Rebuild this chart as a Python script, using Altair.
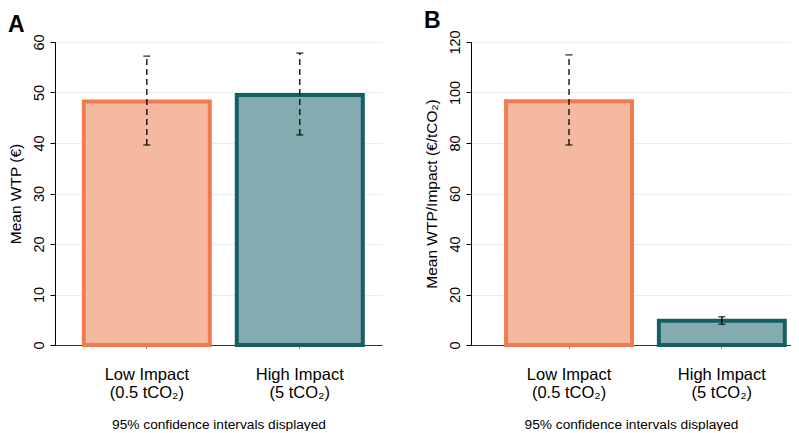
import altair as alt
import pandas as pd

categories = ["Low Impact\n(0.5 tCO₂)", "High Impact\n(5 tCO₂)"]
groups = ["low", "high"]

wtp_mean = [48.2, 49.5]
wtp_lo = [39.6, 41.6]
wtp_hi = [57.2, 57.8]

ratio_mean = [96.5, 9.6]
ratio_lo = [79.2, 8.2]
ratio_hi = [114.9, 11.2]
ratio_style = ["dashed", "solid"]
wtp_style = ["dashed", "dashed"]

fill_colors = ["#F5B9A1", "#84ABAF"]
stroke_colors = ["#EF7C4E", "#155E63"]

FONT = "Liberation Sans"


def panel(mean, lo, hi, style, ytitle, ymax, ystep, label, width, xscale):
    df = pd.DataFrame({"cat": categories, "grp": groups, "mean": mean,
                       "lo": lo, "hi": hi, "style": style})
    x = alt.X("cat:N", sort=categories, scale=xscale,
              axis=alt.Axis(title="95% confidence intervals displayed",
                            labelExpr="split(datum.label, '\\n')",
                            labelAngle=0, labelFontSize=16.5, labelColor="black",
                            labelPadding=18, labelLineHeight=18.5,
                            titleFontSize=13.7, titleFontWeight="normal",
                            titleColor="black", titlePadding=16,
                            tickSize=3, tickColor="#666", domainColor="#333",
                            grid=False))
    y = alt.Y("mean:Q", scale=alt.Scale(domain=[0, ymax], nice=False),
              axis=alt.Axis(title=ytitle, values=list(range(0, ymax + 1, ystep)),
                            labelAngle=-90, labelAlign="center",
                            labelBaseline="bottom", labelFontSize=14.5,
                            labelColor="black", labelPadding=4,
                            titleFontSize=15.5, titleFontWeight="normal",
                            titleColor="black", titlePadding=8,
                            tickSize=5, tickColor="black", domainColor="black",
                            grid=True, gridColor="#E6EEF0"))
    base = alt.Chart(df)
    bars = base.mark_bar(strokeWidth=4).encode(
        x=x, y=y,
        fill=alt.Fill("grp:N", scale=alt.Scale(domain=groups, range=fill_colors), legend=None),
        stroke=alt.Stroke("grp:N", scale=alt.Scale(domain=groups, range=stroke_colors), legend=None),
    )
    dash = alt.StrokeDash("style:N", scale=alt.Scale(domain=["dashed", "solid"],
                                                      range=[[6, 4], [1, 0]]), legend=None)
    rules = base.mark_rule(color="black", strokeWidth=1.3).encode(
        x=alt.X("cat:N", sort=categories), y="lo:Q", y2="hi:Q", strokeDash=dash)
    cap_lo = base.mark_tick(color="black", size=7, thickness=1.5).encode(
        x=alt.X("cat:N", sort=categories), y="lo:Q")
    cap_hi = base.mark_tick(color="black", size=7, thickness=1.5).encode(
        x=alt.X("cat:N", sort=categories), y="hi:Q")
    return alt.layer(bars, rules, cap_lo, cap_hi).properties(
        width=width, height=303,
        title=alt.TitleParams(label, anchor="start", frame="bounds", fontSize=23,
                              fontWeight="bold", font=FONT, color="black", offset=-3))


scaleA = alt.Scale(paddingInner=0.176, paddingOuter=0.157, align=0.6)
scaleB = alt.Scale(paddingInner=0.176, paddingOuter=0.135, align=0.85)

chartA = panel(wtp_mean, wtp_lo, wtp_hi, wtp_style, "Mean WTP (€)", 60, 10, "A", 327, scaleA)
chartB = panel(ratio_mean, ratio_lo, ratio_hi, ratio_style, "Mean WTP/Impact (€/tCO₂)",
               120, 20, "B", 320, scaleB)

chart = alt.hconcat(chartA, chartB, spacing=42).resolve_scale(
    x="independent", y="independent", fill="independent", stroke="independent"
).configure(font=FONT, padding={"left": 0, "top": 1, "right": 0, "bottom": 0}).configure_view(stroke=None)

chart.save("out.html", embed_options={"renderer": "svg", "actions": False})
